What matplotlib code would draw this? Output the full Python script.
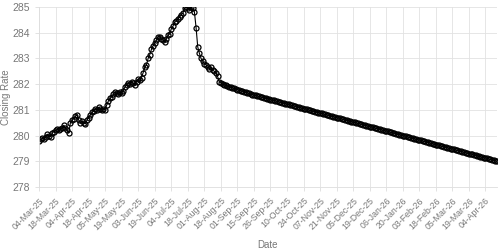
import matplotlib
matplotlib.use("Agg")
import matplotlib.pyplot as plt

# Tick labels shown every 10th trading day
tick_labels = ["04-Mar-25", "18-Mar-25", "04-Apr-25", "18-Apr-25", "05-May-25", "19-May-25",
               "03-Jun-25", "19-Jun-25", "04-Jul-25", "18-Jul-25", "01-Aug-25", "18-Aug-25",
               "01-Sep-25", "15-Sep-25", "26-Sep-25", "10-Oct-25", "24-Oct-25", "07-Nov-25",
               "21-Nov-25", "05-Dec-25", "19-Dec-25", "06-Jan-26", "20-Jan-26", "03-Feb-26",
               "18-Feb-26", "05-Mar-26", "19-Mar-26", "04-Apr-26"]

# Observed closing rates
history = [279.80, 279.85, 279.90, 279.85, 279.95, 280.05, 280.00, 279.95, 280.10, 280.15,
           280.20, 280.25, 280.20, 280.25, 280.30, 280.40, 280.30, 280.20, 280.10, 280.50,
           280.60, 280.65, 280.75, 280.80, 280.60, 280.50, 280.55, 280.50, 280.45, 280.60,
           280.70, 280.80, 280.90, 280.95, 281.05, 281.00, 281.10, 281.05, 281.00, 281.05,
           281.00, 281.20, 281.35, 281.45, 281.50, 281.60, 281.70, 281.65, 281.60, 281.70,
           281.65, 281.75, 281.90, 281.95, 282.05, 282.00, 282.10, 282.05, 281.95, 282.10,
           282.20, 282.15, 282.25, 282.45, 282.65, 282.75, 283.00, 283.15, 283.35, 283.50,
           283.60, 283.70, 283.85, 283.85, 283.75, 283.70, 283.65, 283.75, 283.90, 283.95,
           284.15, 284.25, 284.40, 284.45, 284.55, 284.60, 284.70, 284.75, 284.95, 285.00,
           284.95, 284.90, 285.00, 284.95, 284.80, 284.20, 283.45, 283.20, 283.00, 282.90,
           282.80, 282.75, 282.65, 282.60, 282.65, 282.55, 282.50, 282.45, 282.30, 282.10,
           282.05, 282.00]

# Projected closing rates
forecast = [281.97, 281.95, 281.93, 281.90, 281.88, 281.86, 281.84, 281.82, 281.79, 281.77,
            281.75, 281.73, 281.70, 281.68, 281.66, 281.64, 281.61, 281.59, 281.58, 281.56,
            281.54, 281.52, 281.51, 281.49, 281.47, 281.45, 281.44, 281.42, 281.40, 281.38,
            281.37, 281.35, 281.33, 281.31, 281.30, 281.28, 281.26, 281.24, 281.23, 281.21,
            281.19, 281.17, 281.16, 281.14, 281.12, 281.10, 281.09, 281.07, 281.05, 281.03,
            281.02, 281.00, 280.98, 280.96, 280.95, 280.93, 280.91, 280.89, 280.88, 280.86,
            280.84, 280.82, 280.81, 280.79, 280.77, 280.75, 280.74, 280.72, 280.70, 280.68,
            280.67, 280.65, 280.63, 280.61, 280.60, 280.58, 280.56, 280.54, 280.53, 280.51,
            280.49, 280.47, 280.46, 280.44, 280.42, 280.40, 280.39, 280.37, 280.35, 280.33,
            280.32, 280.30, 280.28, 280.26, 280.25, 280.23, 280.21, 280.19, 280.18, 280.16,
            280.14, 280.12, 280.11, 280.09, 280.07, 280.05, 280.04, 280.02, 280.00, 279.98,
            279.97, 279.95, 279.93, 279.91, 279.90, 279.88, 279.86, 279.84, 279.83, 279.81,
            279.79, 279.77, 279.76, 279.74, 279.72, 279.70, 279.69, 279.67, 279.65, 279.63,
            279.62, 279.60, 279.58, 279.56, 279.55, 279.53, 279.51, 279.49, 279.48, 279.46,
            279.44, 279.42, 279.41, 279.39, 279.37, 279.35, 279.34, 279.32, 279.30, 279.28,
            279.27, 279.25, 279.23, 279.21, 279.20, 279.18, 279.16, 279.14, 279.13, 279.11,
            279.09, 279.07, 279.06, 279.04, 279.02, 279.00]

rates = history + forecast
xs = list(range(len(rates)))

plt.rcParams['font.family'] = ['Liberation Sans', 'DejaVu Sans']
fig = plt.figure(figsize=(5, 2.5), dpi=100)
ax = fig.add_axes([0.078, 0.252, 0.916, 0.72])

ax.plot(xs, rates, color="black", linewidth=0.8, marker="o", markersize=3.6,
        markerfacecolor="none", markeredgecolor="black", markeredgewidth=0.9)

ax.set_xlim(0, len(rates) - 1)
ax.set_ylim(278, 285)
ax.set_xticks(range(0, len(rates), 10))
ax.set_xticklabels(tick_labels, rotation=45, ha="right", rotation_mode="anchor",
                   fontsize=6.3, color="#777777")
ax.tick_params(axis="y", labelsize=7.5, length=3, width=0.6, colors="#dddddd", labelcolor="#777777")
ax.tick_params(axis="x", length=3, width=0.6, colors="#dddddd", labelcolor="#777777")

ax.grid(True, color="#e2e2e2", linewidth=0.6)
ax.set_axisbelow(True)
for side in ["top", "right"]:
    ax.spines[side].set_visible(False)
for side in ["left", "bottom"]:
    ax.spines[side].set_color("#dddddd")
    ax.spines[side].set_linewidth(0.6)

ax.set_xlabel("Date", fontsize=7, color="#777777", labelpad=6)
ax.set_ylabel("Closing Rate", fontsize=7, color="#777777")
ax.yaxis.set_label_coords(-0.062, 0.5)

fig.savefig("out.png", dpi=100)
